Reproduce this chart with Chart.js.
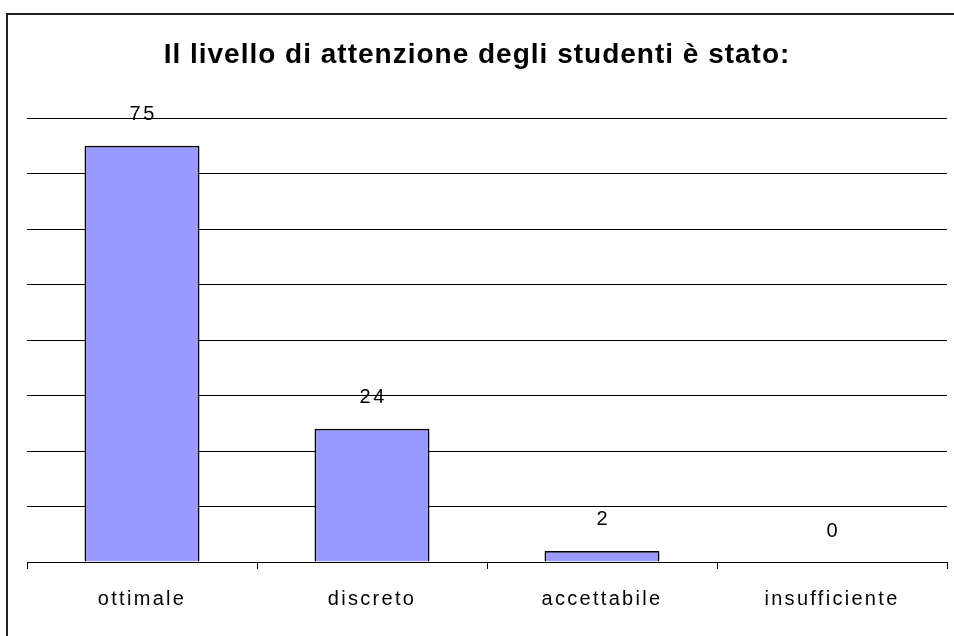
<!DOCTYPE html>
<html>
<head>
<meta charset="utf-8">
<script src="https://cdn.jsdelivr.net/npm/chart.js@4"></script>
<style>
body{margin:0;background:#fff;overflow:hidden;}
#wrap{position:relative;width:954px;height:636px;}
#frame{position:absolute;left:6px;top:13px;width:1000px;height:700px;border:2px solid #222;}
canvas{position:absolute;left:0;top:0;}
</style>
</head>
<body>
<div id="wrap">
<div id="frame"></div>
<canvas id="attChart" width="954" height="636"></canvas>
</div>
<script>
const categories=["ottimale","discreto","accettabile","insufficiente"];
const values=[75,24,2,0];
const titleText="Il livello di attenzione degli studenti è stato:";

const FONT='"Liberation Sans", Arial, sans-serif';

// titolo e valori sopra le barre
const extraText={
id:'extraText',
afterDatasetsDraw(chart){
const ctx=chart.ctx;
const meta=chart.getDatasetMeta(0);
ctx.save();
ctx.fillStyle='#000';
ctx.textAlign='center';
ctx.font='20px '+FONT;
ctx.letterSpacing='2.5px';
ctx.textBaseline='middle';
meta.data.forEach(function(bar,i){
ctx.fillText(String(values[i]),bar.x+1.2,bar.y-31);
});
ctx.font='bold 28px '+FONT;
ctx.letterSpacing='1px';
ctx.textBaseline='alphabetic';
ctx.fillText(titleText,477,63);
ctx.restore();
}
};

const spacing={
id:'spacing',
beforeDraw(chart){chart.ctx.letterSpacing='2.3px';},
afterDraw(chart){chart.ctx.letterSpacing='0px';}
};

const ctx=document.getElementById('attChart').getContext('2d');

new Chart(ctx,{
type:'bar',
data:{
labels:categories,
datasets:[{
data:values,
backgroundColor:'#9999FF',
borderColor:'#000',
borderWidth:1.8,
categoryPercentage:1,
barPercentage:0.5
}]
},
options:{
responsive:false,
animation:false,
layout:{padding:{top:118,left:27,right:7,bottom:7}},
plugins:{
legend:{display:false},
tooltip:{enabled:false},
title:{display:false}
},
scales:{
x:{
grid:{drawOnChartArea:false,drawTicks:true,tickLength:7,offset:true,color:'#000'},
border:{color:'#000',width:1},
ticks:{color:'#000',padding:18,font:{family:FONT,size:20}}
},
y:{
min:0,
max:80,
ticks:{display:false,stepSize:10},
grid:{color:'#000',drawTicks:false},
border:{display:false}
}
}
},
plugins:[extraText,spacing]
});
</script>
</body>
</html>
